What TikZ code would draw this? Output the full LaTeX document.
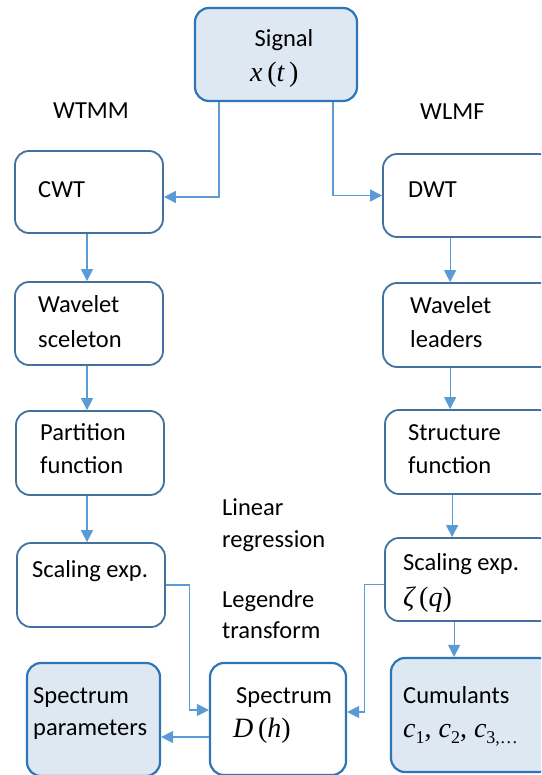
\documentclass[tikz,border=0pt]{standalone}
\usepackage{fontspec}
\setmainfont{Carlito}
\newfontfamily\mserif{Liberation Serif}
\usetikzlibrary{arrows.meta,calc}
\definecolor{fillblue}{HTML}{DEE8F3}
\definecolor{strongblue}{HTML}{2E75B6}
\definecolor{plainblue}{HTML}{41719C}
\definecolor{arrowblue}{HTML}{5B9BD5}
\newcommand{\mv}[1]{{\itshape #1}}
\newcommand{\msub}[1]{\raisebox{-0.22em}{\fontsize{18}{20}\selectfont #1}}
\begin{document}
\begin{tikzpicture}[x=1pt,y=1pt,
  box/.style={draw=plainblue,line width=1.8pt,rounded corners=14pt,rectangle,inner sep=0pt,fill=white},
  keybox/.style={draw=strongblue,line width=2.2pt,rounded corners=14pt,rectangle,inner sep=0pt,fill=fillblue},
  txt/.style={anchor=base west,inner sep=0pt,font=\fontsize{24.5}{30}\selectfont},
  mtxt/.style={anchor=base west,inner sep=0pt,font=\mserif\fontsize{28}{30}\selectfont},
  conn/.style={draw=arrowblue,line width=1.1pt,-{Triangle[length=12pt,width=12pt]}}]
\clip (0,0) rectangle (541,-775);
\fill[white] (0,0) rectangle (541,-775);
% boxes
\node[keybox,minimum width=162pt,minimum height=93pt] (signal) at (276,-54.5) {};
\node[box,minimum width=148pt,minimum height=82pt] (cwt) at (89,-192) {};
\node[box,minimum width=170pt,minimum height=83pt] (dwt) at (468,-195.5) {};
\node[box,minimum width=148pt,minimum height=83pt] (scel) at (89,-323.5) {};
\node[box,minimum width=170pt,minimum height=84pt] (lead) at (468,-325) {};
\node[box,minimum width=148pt,minimum height=84pt] (part) at (90,-453) {};
\node[box,minimum width=168pt,minimum height=84pt] (struct) at (469,-452) {};
\node[box,minimum width=148pt,minimum height=84pt] (scalL) at (91,-585) {};
\node[box,minimum width=168pt,minimum height=83pt] (scalR) at (469,-579.5) {};
\node[keybox,minimum width=133pt,minimum height=113pt] (params) at (93.5,-719.5) {};
\node[box,draw=strongblue,line width=2.2pt,minimum width=136pt,minimum height=112pt] (spec) at (278,-719) {};
\node[keybox,minimum width=162pt,minimum height=114pt] (cum) at (472,-715) {};
% texts
\node[txt,anchor=base] (t1) at (284,-47) {Signal};
\node[mtxt] (t2) at (250,-82) {\mv{x}\,(\mv{t}\,)};
\node[txt] (wtmm) at (53,-119) {WTMM};
\node[txt] (wlmf) at (420,-120) {WLMF};
\node[txt] (t3) at (38,-198) {CWT};
\node[txt] (t4) at (408,-198) {DWT};
\node[txt] (t5) at (38,-312) {Wavelet};
\node[txt] (t6) at (38,-347) {sceleton};
\node[txt] (t7) at (410,-313) {Wavelet};
\node[txt] (t8) at (410,-347) {leaders};
\node[txt] (t9) at (40,-440) {Partition};
\node[txt] (t10) at (40,-473) {function};
\node[txt] (t11) at (408,-440) {Structure};
\node[txt] (t12) at (408,-473) {function};
\node[txt] (lin1) at (222,-515) {Linear};
\node[txt] (lin2) at (222,-547) {regression};
\node[txt] (leg1) at (222,-607) {Legendre};
\node[txt] (leg2) at (222,-638) {transform};
\node[txt] (t13) at (32,-577) {Scaling exp.};
\node[txt] (t14) at (403,-570) {Scaling exp.};
\node[mtxt] (t15) at (403,-606) {\mv{ζ}\,(\mv{q})};
\node[txt] (t16) at (33,-703) {Spectrum};
\node[txt] (t17) at (33,-735) {parameters};
\node[txt] (t18) at (236,-703) {Spectrum};
\node[mtxt] (t19) at (233,-737) {\mv{D}\,(\mv{h})};
\node[txt] (t20) at (403,-703) {Cumulants};
\node[mtxt] (t21) at (403,-737) {\mv{c}\msub{1}, \mv{c}\msub{2}, \mv{c}\msub{3,…}};
% connectors
\draw[conn] ([xshift=-57pt]signal.south) |- ([yshift=-5pt]cwt.east);
\draw[conn] ([xshift=57pt]signal.south) |- (dwt.west);
\draw[conn] ([xshift=-2pt]cwt.south) -- ([xshift=-2pt]scel.north);
\draw[conn] ([xshift=-2pt]scel.south) -- ([xshift=-2pt]scel.south |- part.north);
\draw[conn] ([xshift=-3pt]part.south) -- ([xshift=-3pt]part.south |- scalL.north);
\draw[conn] ([xshift=68pt]dwt.south west) -- ([xshift=68pt]dwt.south west |- lead.north);
\draw[conn] ([xshift=68pt]lead.south west) -- ([xshift=68pt]lead.south west |- struct.north);
\draw[conn] ([xshift=68pt]struct.south west) -- ([xshift=68pt]struct.south west |- scalR.north);
\draw[conn] ([xshift=70pt]scalR.south west) -- ([xshift=70pt]scalR.south west |- cum.north);
\draw[conn] (scalL.east) -- ++(24pt,0) |- ([yshift=9pt]spec.west);
\draw[conn] ([yshift=-5pt]scalR.west) -- ++(-20pt,0) |- ([yshift=7pt]spec.east);
\draw[conn] ([yshift=-18pt]spec.west) -- ([yshift=-18pt]spec.west -| params.east);
\end{tikzpicture}
\end{document}
